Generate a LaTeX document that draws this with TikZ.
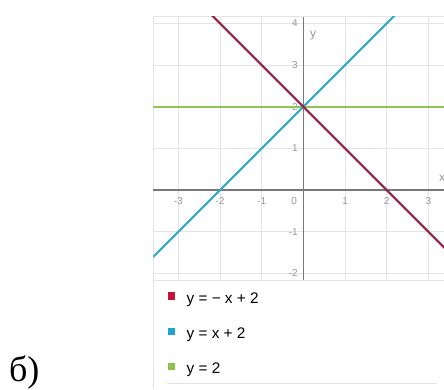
\documentclass[tikz,border=0pt]{standalone}
\usepackage{fontspec}
\setmainfont{Liberation Sans}
\newfontfamily\tagfont{Liberation Serif}
\definecolor{linered}{RGB}{150, 30, 72}
\definecolor{keyred}{RGB}{196, 20, 60}
\definecolor{lineblue}{RGB}{50, 170, 200}
\definecolor{keyblue}{RGB}{30, 163, 214}
\definecolor{linegreen}{RGB}{140, 198, 80}
\definecolor{keygreen}{RGB}{139, 195, 74}
\definecolor{gridgray}{RGB}{228, 228, 228}
\definecolor{axisgray}{RGB}{120, 120, 120}
\definecolor{tickgray}{RGB}{150, 150, 150}
\usetikzlibrary{positioning}

\begin{document}
\begin{tikzpicture}[
  x=31.25pt, y=31.25pt,
  gridline/.style={draw=gridgray, line width=0.6pt},
  axisline/.style={draw=axisgray, line width=0.8pt},
  graphline/.style={line width=1.6pt},
  ticklbl/.style={font=\fontsize{7.5}{9}\selectfont, text=tickgray, inner sep=0pt},
  keybox/.style={minimum size=5.5pt, inner sep=0pt},
  keytext/.style={font=\fontsize{11.5}{13}\selectfont, inner sep=0pt, yshift=-2.5pt}
]
  \useasboundingbox (-7.28,-4.776) rectangle (3.375,4.56);

  % grid
  \foreach \gx in {-3,...,3} \draw[gridline] (\gx,-2.16) -- (\gx,4.159);
  \foreach \gy in {-2,-1,1,2,3,4} \draw[gridline] (-3.6,\gy) -- (3.375,\gy);
  \draw[gridline] (-3.6,4.159) -- (3.375,4.159);
  \draw[gridline] (-3.6,-2.16) -- (3.375,-2.16);
  \draw[gridline] (-3.6,4.159) -- (-3.6,-4.776);
  \draw[gridline] (-3.27,-4.64) -- (3.2,-4.64);

  % axes
  \draw[axisline] (-3.6,0) -- (3.375,0);
  \draw[axisline] (0,-2.16) -- (0,4.159);
  \foreach \gx in {-3,-2,-1,1,2,3} \node[ticklbl] (xt\gx) at (\gx,-0.264) {\gx};
  \node[ticklbl, anchor=east] (xt0) at (-0.15,-0.264) {0};
  \foreach \gy in {-2,-1,1,2,3,4} \node[ticklbl, anchor=east] (yt\gy) at (-0.127,\gy) {\gy};
  \node[ticklbl, font=\fontsize{9}{11}\selectfont] (xname) at (3.33,0.288) {x};
  \node[ticklbl, font=\fontsize{9}{11}\selectfont] (yname) at (0.233,3.696) {y};

  % graphs
  \begin{scope}
    \clip (-3.6,-2.16) rectangle (3.375,4.159);
    \draw[graphline, linegreen] (-3.6,2) -- (3.375,2);
    \draw[graphline, lineblue] (-4,-2) -- (2.5,4.5);
    \draw[graphline, linered] (-2.5,4.5) -- (4,-2);
  \end{scope}

  % legend
  \node[keybox, fill=keyred] (keyA) at (-3.158,-2.544) {};
  \node[keytext, right=8pt of keyA] (textA) {y = − x + 2};
  \node[keybox, fill=keyblue] (keyB) at (-3.158,-3.40) {};
  \node[keytext, right=8pt of keyB] (textB) {y = x + 2};
  \node[keybox, fill=keygreen] (keyC) at (-3.158,-4.24) {};
  \node[keytext, right=8pt of keyC] (textC) {y = 2};

  \node[font=\tagfont\fontsize{27}{32}\selectfont, anchor=base west, inner sep=0pt] (tag) at (-7.07,-4.60) {б)};
\end{tikzpicture}
\end{document}
